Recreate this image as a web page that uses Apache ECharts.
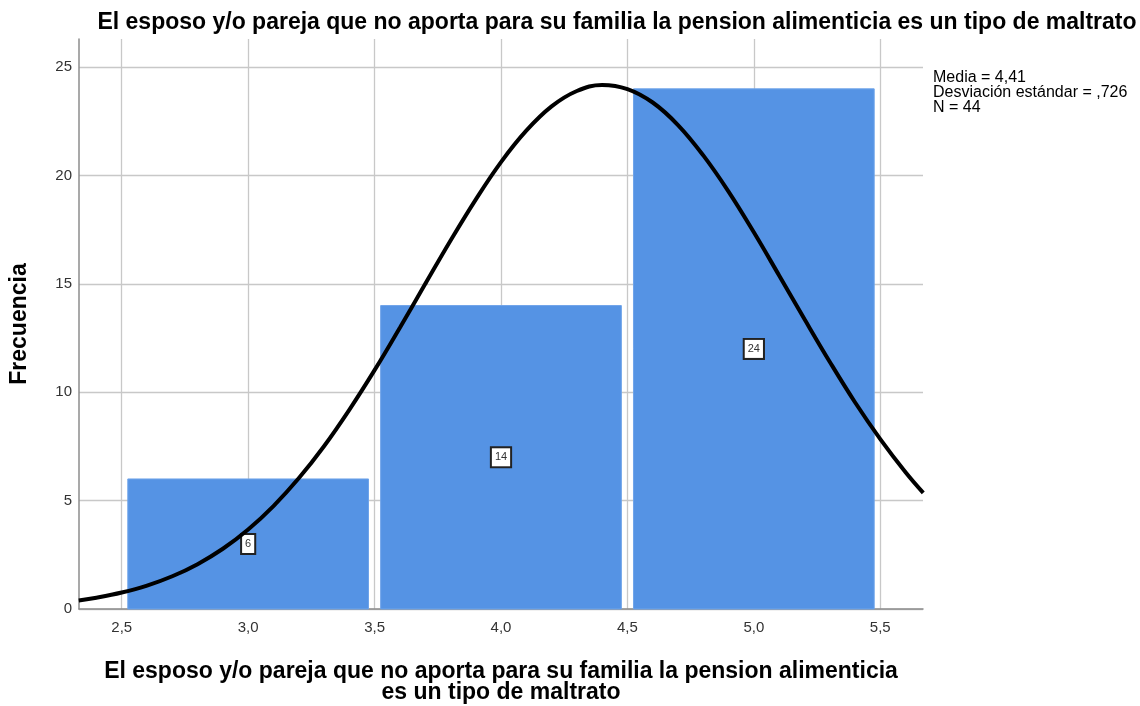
<!DOCTYPE html>
<html>
<head>
<meta charset="utf-8">
<script src="https://cdn.jsdelivr.net/npm/echarts@6/dist/echarts.min.js"></script>
<style>
  html, body { margin: 0; padding: 0; background: #fff; }
  #chart { width: 1140px; height: 706px; }
</style>
</head>
<body>
<div id="chart"></div>
<script>
// 直方图数据
const binCenters = [3.0, 4.0, 5.0];
const frequencies = [6, 14, 24];
const binHalfWidth = 0.476;

// 正态曲线（从图中读取的点）
const curveX = [2.33, 2.4, 2.5, 2.6, 2.7, 2.8, 2.9, 3.0, 3.1, 3.2, 3.3, 3.4, 3.5, 3.6, 3.7, 3.8, 3.9, 4.0,
    4.1, 4.2, 4.3, 4.4, 4.5, 4.6, 4.7, 4.8, 4.9, 5.0, 5.1, 5.2, 5.3, 5.4, 5.5, 5.6, 5.67];
const curveY = [0.39, 0.52, 0.76, 1.08, 1.51, 2.07, 2.78, 3.67, 4.75, 6.03, 7.51, 9.19, 11.02, 12.98, 14.99, 16.99, 18.89, 20.62,
    22.07, 23.19, 23.90, 24.18, 23.99, 23.37, 22.33, 20.93, 19.26, 17.38, 15.39, 13.38, 11.41, 9.54, 7.84, 6.31, 5.36];

// 坐标轴刻度
const xTicks = [2.5, 3.0, 3.5, 4.0, 4.5, 5.0, 5.5];
const yTicks = [0, 5, 10, 15, 20, 25];

// 统计信息
const statsLines = ['Media = 4,41', 'Desviación estándar = ,726', 'N = 44'];

const titleText = 'El esposo y/o pareja que no aporta para su familia la pension alimenticia es un tipo de maltrato';
const xName = 'El esposo y/o pareja que no aporta para su familia la pension alimenticia\nes un tipo de maltrato';
const yName = 'Frecuencia';

const FONT = 'Liberation Sans, Arial, sans-serif';

const chart = echarts.init(document.getElementById('chart'));

const barData = binCenters.map((c, i) => [c, frequencies[i]]);
const curveData = curveX.map((x, i) => [x, curveY[i]]);

const option = {
    animation: false,
    textStyle: { fontFamily: FONT },
    title: {
        text: titleText,
        left: 612,
        textAlign: 'center',
        top: 6,
        textStyle: { fontSize: 23, fontWeight: 'bold', color: '#000' }
    },
    graphic: [
        {
            type: 'text',
            left: 933,
            top: 70,
            style: {
                text: statsLines.join('\n'),
                font: '16px ' + FONT,
                fill: '#000',
                lineHeight: 15
            }
        },
        {
            type: 'text',
            x: 20,
            y: 324,
            rotation: Math.PI / 2,
            style: {
                text: yName,
                font: 'bold 23px ' + FONT,
                fill: '#000',
                align: 'center',
                verticalAlign: 'middle'
            }
        }
    ],
    grid: {
        left: 79,
        right: 217,
        top: 39,
        bottom: 97,
        outerBoundsMode: 'none'
    },
    xAxis: {
        type: 'value',
        min: 2.331,
        max: 5.669,
        name: xName,
        nameLocation: 'middle',
        nameGap: 52,
        nameTextStyle: { fontSize: 23, fontWeight: 'bold', color: '#000', lineHeight: 21 },
        axisLine: { lineStyle: { color: '#8c8c8c', width: 1.5 } },
        axisTick: { show: false, customValues: xTicks },
        axisLabel: {
            customValues: xTicks,
            color: '#333',
            fontSize: 15,
            margin: 11,
            formatter: v => v.toFixed(1).replace('.', ',')
        },
        splitLine: { show: true, lineStyle: { color: '#c8c8c8', width: 1.3 } }
    },
    yAxis: {
        type: 'value',
        min: 0,
        max: 26.3,
        axisLine: { show: true, lineStyle: { color: '#8c8c8c', width: 1.5 } },
        axisTick: { show: false, customValues: yTicks },
        axisLabel: { customValues: yTicks, color: '#333', fontSize: 15, margin: 7 },
        splitLine: { show: true, lineStyle: { color: '#c8c8c8', width: 1.3 } }
    },
    series: [
        {
            type: 'custom',
            data: barData,
            z: 2,
            renderItem: function (params, api) {
                const c = api.value(0);
                const f = api.value(1);
                const p0 = api.coord([c - binHalfWidth, f]);
                const p1 = api.coord([c + binHalfWidth, 0]);
                const mid = api.coord([c, f / 2]);
                return {
                    type: 'group',
                    children: [
                        {
                            type: 'rect',
                            shape: { x: p0[0], y: p0[1], width: p1[0] - p0[0], height: p1[1] - p0[1] },
                            style: { fill: '#5593e4', stroke: '#6fa4ea', lineWidth: 1 }
                        },
                        {
                            type: 'text',
                            x: mid[0],
                            y: mid[1],
                            z2: 10,
                            style: {
                                text: String(f),
                                font: '11px ' + FONT,
                                fill: '#333',
                                align: 'center',
                                verticalAlign: 'middle',
                                backgroundColor: '#fff',
                                borderColor: '#222',
                                borderWidth: 2,
                                padding: [4, 3, 3, 3]
                            }
                        }
                    ]
                };
            }
        },
        {
            type: 'line',
            data: curveData,
            smooth: 0.4,
            showSymbol: false,
            z: 5,
            lineStyle: { color: '#000', width: 4 }
        }
    ]
};

chart.setOption(option);
</script>
</body>
</html>
